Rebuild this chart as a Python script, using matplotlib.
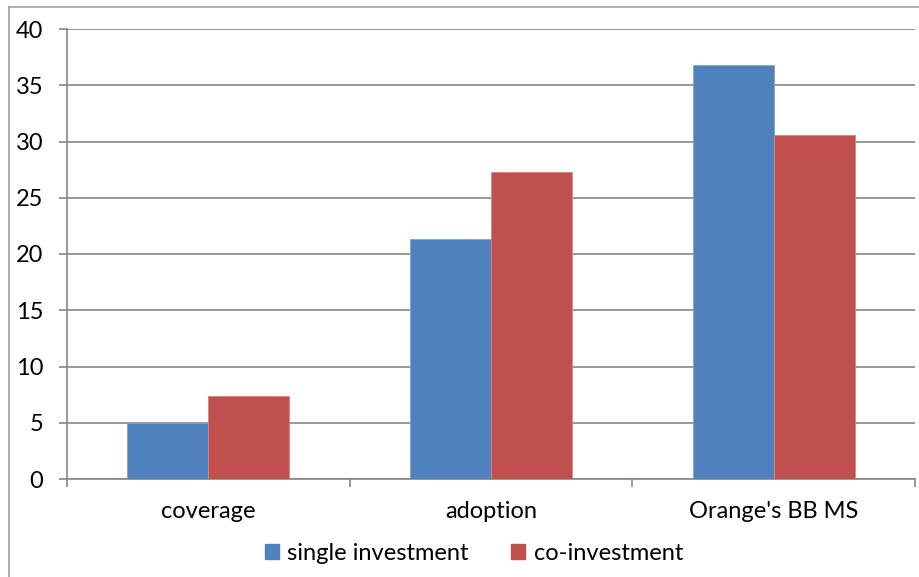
import matplotlib
matplotlib.use("Agg")
import matplotlib.pyplot as plt
from matplotlib.lines import Line2D
from matplotlib.patches import Patch
import numpy as np

categories = ["coverage", "adoption", "Orange's BB MS"]
single_investment = [5.0, 21.3, 36.8]
co_investment = [7.4, 27.3, 30.6]
series_names = ["single investment", "co-investment"]
yticks = [0, 5, 10, 15, 20, 25, 30, 35, 40]

plt.rcParams['font.family'] = ['Lato', 'DejaVu Sans']
FS = 17

fig = plt.figure(figsize=(9.2, 5.77), dpi=100)
ax = fig.add_axes([67/920, 1-479/577, 848/920, 450/577])

blue = "#4F81BD"
red = "#C0504D"
grid = "#868686"

x = np.arange(len(categories))
w = 0.287
ax.bar(x - w/2, single_investment, width=w, color=blue, edgecolor="#7FA3D3", linewidth=0.6, zorder=3)
ax.bar(x + w/2, co_investment, width=w, color=red, edgecolor="#D98482", linewidth=0.6, zorder=3)

ax.set_xlim(-0.5, len(categories) - 0.5)
ax.set_ylim(0, 40)
ax.set_yticks(yticks)
ax.set_yticklabels([str(t) for t in yticks], fontsize=FS)
ax.yaxis.grid(True, color=grid, linewidth=1.2, zorder=0)
ax.set_axisbelow(True)

ax.set_xticks(x)
ax.set_xticklabels(categories, fontsize=FS)
ax.tick_params(axis='x', length=0, pad=16)
ax.set_xticks(np.arange(len(categories) + 1) - 0.5, minor=True)
ax.tick_params(axis='x', which='minor', length=6, direction='out', color=grid, width=1.2)
ax.tick_params(axis='y', length=6, direction='out', color=grid, width=1.2, pad=11)

for s in ["top", "right"]:
    ax.spines[s].set_visible(False)
ax.spines["left"].set_color(grid)
ax.spines["left"].set_linewidth(1.2)
ax.spines["bottom"].set_color(grid)
ax.spines["bottom"].set_linewidth(1.2)

handles = [Patch(facecolor=blue, edgecolor=blue), Patch(facecolor=red, edgecolor=red)]
fig.legend(handles, series_names, loc="center", bbox_to_anchor=(474/920, 1-553/577),
           ncol=2, frameon=False, fontsize=FS, handlelength=0.6, handleheight=0.6,
           handletextpad=0.35, columnspacing=1.8)

# outer chart border
fig.add_artist(Line2D([9.5/920, 9.5/920], [0, 1-6.5/577], color="#A0A0A0", linewidth=1.2, transform=fig.transFigure))
fig.add_artist(Line2D([9.5/920, 1], [1-6.5/577, 1-6.5/577], color="#A0A0A0", linewidth=1.2, transform=fig.transFigure))

fig.savefig("out.png", dpi=100)
